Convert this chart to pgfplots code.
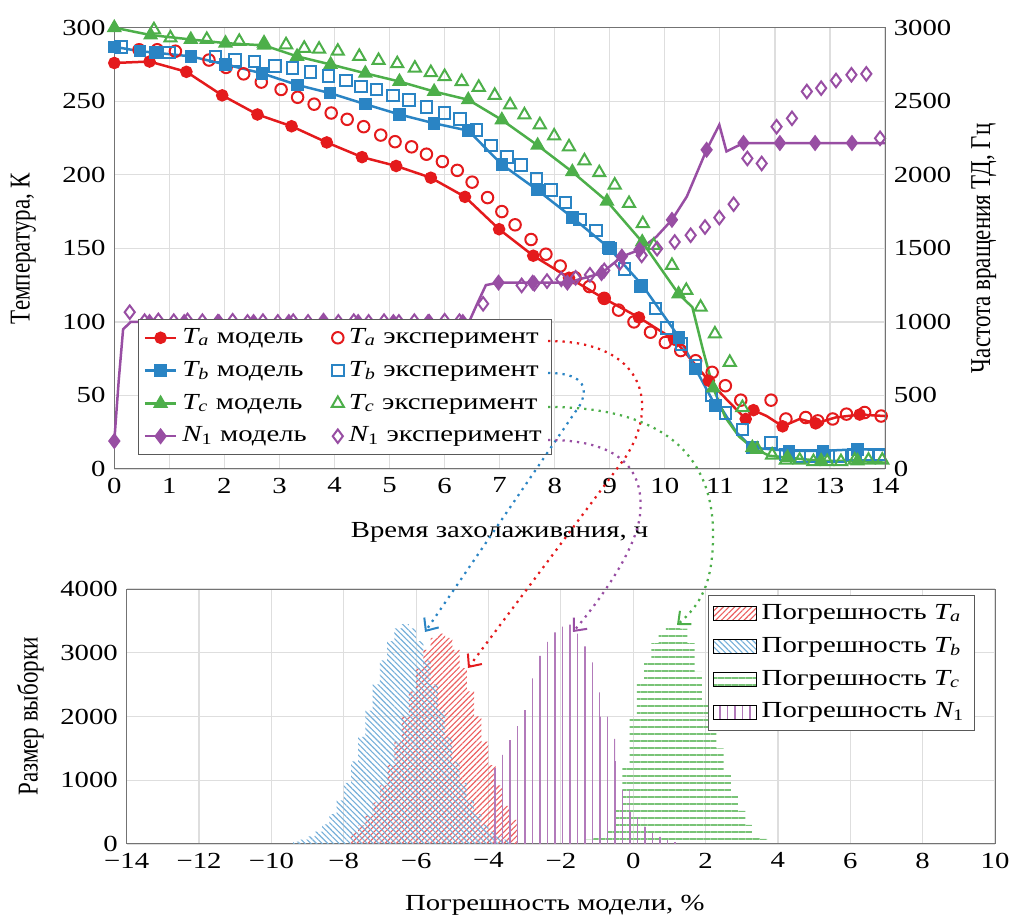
\documentclass[border=0pt]{standalone}
\usepackage{fontspec}
\setmainfont[FakeStretch=1.25]{Liberation Serif}
\newfontfamily\rotfont{Liberation Serif}
\usepackage{graphicx}
\usepackage{pgfplots}
\usepackage{pgfplotstable}
\pgfplotsset{compat=1.18}
\usetikzlibrary{patterns.meta,arrows.meta}
\definecolor{cR}{HTML}{E41A1C}
\definecolor{cB}{HTML}{2A84C4}
\definecolor{cG}{HTML}{4DAF4A}
\definecolor{cP}{HTML}{984EA3}
\newcommand{\iv}[1]{{\itshape #1}}

\pgfplotstableread{
x y
0 276
0.64 277
1.31 270
1.96 254
2.6 241
3.22 233
3.86 222
4.5 212
5.12 206
5.75 198
6.37 185
6.99 163
7.61 145
8.26 130
8.89 116
9.53 103
10.17 88
10.8 60
11.13 47
11.47 34
11.61 40
11.85 36
12.14 29
12.45 34
12.74 31
13.1 35
13.54 37
14 36
}\TaM
\pgfplotstableread{
x y
0.45 285
0.78 285
1.11 284
1.72 278
2.03 273
2.35 268.6
2.67 263
3.03 258
3.33 252.7
3.63 248
3.94 242
4.23 237.7
4.53 232.7
4.84 227
5.1 222.5
5.4 219
5.67 214
5.96 209
6.23 203
6.5 195
6.78 184.5
7.04 175
7.28 166
7.57 156
7.84 146
8.1 138
8.37 130
8.63 124
8.9 116
9.16 108
9.44 100
9.74 93
10.01 86
10.29 80.5
10.56 73.6
10.86 65.7
11.1 56.6
11.38 46.8
11.93 46.8
12.2 34
12.56 35
12.78 32.7
13.05 34
13.3 37.3
13.63 38.4
13.93 36
}\TaE
\pgfplotstableread{
x y
0 287
0.47 284
0.75 283
1.39 280.5
2.02 275
2.68 269
3.33 261
3.92 255.5
4.56 248
5.18 241
5.81 235
6.43 230
7.04 207
7.69 189.5
8.32 171
8.98 150.5
9.59 125
10.26 89.5
10.56 68
10.92 43
11.05 40
11.3 25
11.59 14.5
12.26 12.3
12.87 12.3
13.5 13.4
14 13
}\TbM
\pgfplotstableread{
x y
0.12 287
0.99 283
1.84 280.5
2.19 278
2.55 277
2.92 274
3.24 272.5
3.56 270
3.89 267
4.21 264
4.48 260
4.76 258
5.06 254
5.35 251
5.67 246
6.0 242
6.28 238
6.58 230.5
6.84 220
7.13 212
7.39 206.6
7.67 197.5
7.93 189.5
8.2 181
8.46 169.5
8.75 162
9.0 150
9.27 136
9.56 124
9.83 109
10.04 96
10.3 85
10.56 70
10.85 50
11.1 38
11.41 27
11.93 18
12.2 10
12.45 9
12.66 9
12.9 9
13.18 9
13.43 10
13.67 10
13.9 10
}\TbE
\pgfplotstableread{
x y
0 300
0.66 295
1.39 292
2.02 289.5
2.72 288
3.32 280.5
3.93 275
4.56 269
5.18 263.4
5.81 256.6
6.43 251
7.04 237.3
7.69 220
8.32 202
8.95 182
9.59 154.3
10.25 119
10.5 110
10.7 80
10.88 55
11.1 35
11.35 22
11.59 14.5
11.9 9
12.23 7.7
12.84 5.5
13.5 5.5
14 4.3
}\TcM
\pgfplotstableread{
x y
0.72 298.6
1.02 293
1.68 292
2.27 290.7
2.72 289.5
3.12 288.4
3.45 286
3.72 285.4
4.06 284
4.45 280.5
4.8 277.7
5.14 275.5
5.46 272.5
5.75 269.5
6.0 266.8
6.31 263.4
6.62 259.5
6.91 254
7.19 247.5
7.45 240.7
7.73 234
7.99 226.4
8.26 219
8.54 209.5
8.81 201.4
9.09 193
9.35 180.5
9.6 166.8
9.8 152
10.13 138.4
10.39 121.4
10.65 110
10.91 91.8
11.18 72.5
11.41 41.8
11.68 13.4
11.95 9.5
12.2 6
12.45 6
12.7 5
12.95 5
13.2 5
13.45 6
13.7 6
13.95 6
}\TcE
\pgfplotstableread{
x y
0 190
0.08 600
0.16 950
0.3 1000
0.64 1000
1.27 1000
1.9 1000
2.53 1000
3.17 1000
3.8 1000
4.43 1000
5.07 1000
5.7 1000
6.33 1000
6.45 1005
6.6 1130
6.75 1250
6.98 1267
7.6 1267
8.23 1267
8.85 1331
9.22 1444
9.54 1490
9.85 1580
10.13 1694
10.4 1852
10.76 2170
10.99 2340
11.12 2159
11.43 2216
12.09 2216
12.73 2216
13.4 2216
14 2216
}\NM
\pgfplotstableread{
x y
0.28 1066
0.55 1005
0.8 1010
1.08 1005
1.33 1010
1.6 1005
1.88 1000
2.15 1008
2.42 1000
2.7 1005
2.97 1000
3.25 1005
3.52 1000
3.8 1008
4.07 1000
4.35 1005
4.62 1000
4.9 1005
5.17 1000
5.45 1005
5.72 1000
6.0 1008
6.27 1005
6.7 1123
7.4 1248
7.63 1260
7.86 1277
8.12 1290
8.38 1300
8.64 1320
8.9 1350
9.18 1400
9.58 1452
9.86 1498
10.18 1543
10.47 1589
10.73 1645
10.99 1709
11.25 1800
11.5 2111
11.76 2077
12.03 2327
12.31 2384
12.58 2566
12.84 2589
13.11 2641
13.39 2680
13.66 2686
13.91 2248
}\NE

\pgfplotstableread{
x y
-7.8 185
-7.6 293
-7.4 447
-7.2 653
-7.0 918
-6.8 1239
-6.6 1606
-6.4 2002
-6.2 2396
-6.0 2757
-5.8 3046
-5.6 3235
-5.4 3300
-5.2 3235
-5.0 3046
-4.8 2757
-4.6 2396
-4.4 2002
-4.2 1606
-4.0 1239
-3.8 918
-3.6 600
-3.4 380
-3.2 0
}\HTa
\pgfplotstableread{
x y
-9.4 38
-9.2 68
-9.0 118
-8.8 194
-8.6 307
-8.4 467
-8.2 683
-8.0 959
-7.8 1295
-7.6 1679
-7.4 2093
-7.2 2505
-7.0 2882
-6.8 3184
-6.6 3382
-6.4 3450
-6.2 3382
-6.0 3184
-5.8 2882
-5.6 2505
-5.4 2093
-5.2 1679
-5.0 1295
-4.8 959
-4.6 683
-4.4 467
-4.2 307
-4.0 194
-3.8 118
-3.6 68
-3.4 0
}\HTb
\pgfplotstableread{
x y
-1.7 30
-1.5 50
-1.3 70
-1.1 100
-0.9 150
-0.7 250
-0.5 600
-0.3 1250
-0.1 2000
0.1 2550
0.3 2850
0.5 3150
0.7 3320
0.9 3420
1.1 3450
1.3 3380
1.5 3150
1.7 2700
1.9 2250
2.1 1900
2.3 1500
2.5 1150
2.7 800
2.9 520
3.1 300
3.3 170
3.5 80
3.7 40
3.9 0
}\HTc
\pgfplotstableread{
x y
-3.9 1190
-3.7 1400
-3.5 1630
-3.3 1850
-3.1 2100
-2.9 2600
-2.7 2950
-2.5 3170
-2.3 3320
-2.1 3410
-1.9 3440
-1.7 3300
-1.5 3100
-1.3 2850
-1.1 2380
-0.9 2000
-0.7 1650
-0.5 1300
-0.3 850
-0.1 500
0.1 420
0.3 270
0.5 170
0.7 110
0.9 65
1.1 30
1.3 0
}\HN

\begin{document}
\begin{tikzpicture}[font=\fontsize{9.2}{11}\selectfont]
\path[use as bounding box] (0,0) rectangle (404pt,369.2pt);
\pgfplotsset{
  common/.style={
    scale only axis, anchor=south west,
    /pgf/number format/assume math mode=true,
    /pgf/number format/1000 sep={},
    scaled ticks=false,
    tick style={draw=none},
    axis line style={black!55},
    grid=major, grid style={black!13, line width=0.5pt},
    tick label style={font=\fontsize{9.2}{11}\selectfont},
  },
  mod/.style={line width=1pt, mark size=2pt,
    legend image code/.code={\draw[mark=none] (0cm,0cm) -- (0.44cm,0cm); \draw[mark indices={1}] plot coordinates {(0.22cm,0cm)};}},
  expm/.style={only marks, mark size=2.3pt, mark options={line width=0.8pt},
    legend image code/.code={\draw plot coordinates {(0.1cm,0cm)};}},
}
% ---------------- top axis ----------------
\begin{axis}[common,
  at={(45.72pt,181.6pt)}, width=308.28pt, height=176.52pt,
  xmin=0, xmax=14, ymin=0, ymax=300,
  xtick={0,1,...,14}, ytick={0,50,...,300},
  clip=false,
  xlabel={Время захолаживания, ч},
  ylabel={\rotfont\scalebox{1}[1.25]{Температура, К}},
  every axis x label/.style={at={(axis description cs:0.5,-0.143)},anchor=center},
  every axis y label/.style={at={(axis description cs:-0.118,0.5)},anchor=center,rotate=90},
  legend columns=2, legend cell align=left,
  legend style={at={(axis description cs:0.031,0.032)}, anchor=south west,
    draw=black!65, fill=white, inner xsep=2pt, inner ysep=1.5pt,
    row sep=1.6pt, font=\fontsize{9.2}{11}\selectfont,
    /tikz/every even column/.append style={column sep=8pt}},
]
\addplot[mod, cR, mark=*, mark indices={1,2,...,18,20,21,23,25,27}] table {\TaM};
\addlegendentry{\iv{T}\textsubscript{\iv{a}} модель}
\addplot[expm, cR, mark=o] table {\TaE};
\addlegendentry{\iv{T}\textsubscript{\iv{a}} эксперимент}
\addplot[mod, cB, mark=square*, mark indices={1,2,...,20,23,24,25,26}] table {\TbM};
\addlegendentry{\iv{T}\textsubscript{\iv{b}} модель}
\addplot[expm, cB, mark=square] table {\TbE};
\addlegendentry{\iv{T}\textsubscript{\iv{b}} эксперимент}
\addplot[mod, cG, mark=triangle*, mark size=2.5pt, mark indices={1,2,...,17,20,23,25,26,27}] table {\TcM};
\addlegendentry{\iv{T}\textsubscript{\iv{c}} модель}
\addplot[expm, cG, mark=triangle, mark size=2.8pt] table {\TcE};
\addlegendentry{\iv{T}\textsubscript{\iv{c}} эксперимент}
\addplot[mod, cP, mark=diamond*, mark size=2.5pt, mark indices={1,5,6,...,14,18,19,20,21,22,23,25,27,30,31,32,33}] table[y expr=\thisrow{y}/10] {\NM};
\addlegendentry{\iv{N}\textsubscript{1} модель}
\addplot[expm, cP, mark=diamond, mark size=2.7pt] table[y expr=\thisrow{y}/10] {\NE};
\addlegendentry{\iv{N}\textsubscript{1} эксперимент}
\end{axis}
% right axis
\begin{axis}[common,
  at={(45.72pt,181.6pt)}, width=308.28pt, height=176.52pt,
  xmin=0, xmax=14, ymin=0, ymax=3000,
  axis y line*=right, axis x line=none, grid=none,
  ytick={0,500,...,3000},
  ylabel={\rotfont\scalebox{1}[1.25]{Частота вращения ТД, Гц}},
  every axis y label/.style={at={(axis description cs:1.128,0.5)},anchor=center,rotate=90},
]
\addplot[draw=none] coordinates {(0,0)};
\end{axis}
% ---------------- bottom axis ----------------
\begin{axis}[common,
  at={(50.68pt,31.6pt)}, width=347.32pt, height=102pt,
  xmin=-14, xmax=10, ymin=0, ymax=4000,
  xtick={-14,-12,...,10},
  xticklabels={−14,−12,−10,−8,−6,−4,−2,0,2,4,6,8,10},
  ytick={0,1000,...,4000},
  xlabel={Погрешность модели, \%},
  ylabel={\rotfont\scalebox{1}[1.25]{Размер выборки}},
  every axis x label/.style={at={(axis description cs:0.493,-0.24)},anchor=center},
  every axis y label/.style={at={(axis description cs:-0.111,0.5)},anchor=center,rotate=90},
  legend cell align=left,
  legend style={at={(axis description cs:0.977,0.976)}, anchor=north east,
    draw=black!65, fill=white, inner xsep=2pt, inner ysep=1.5pt, row sep=1.6pt,
    font=\fontsize{9.2}{11}\selectfont},
]
\addplot[const plot, draw=none, area legend, pattern={Lines[angle=45,distance=1.6pt,line width=0.45pt]}, pattern color=cR!70] table {\HTa} \closedcycle;
\addlegendentry{Погрешность \iv{T}\textsubscript{\iv{a}}}
\addplot[const plot, draw=none, area legend, pattern={Lines[angle=-45,distance=1.6pt,line width=0.45pt]}, pattern color=cB!65] table {\HTb} \closedcycle;
\addlegendentry{Погрешность \iv{T}\textsubscript{\iv{b}}}
\addplot[const plot, draw=none, area legend, pattern={Lines[angle=0,distance=2.8pt,line width=0.45pt]}, pattern color=cG!75] table {\HTc} \closedcycle;
\addlegendentry{Погрешность \iv{T}\textsubscript{\iv{c}}}
\addplot[const plot, draw=none, area legend, pattern={Lines[angle=90,distance=3pt,line width=0.5pt]}, pattern color=cP!75] table {\HN} \closedcycle;
\addlegendentry{Погрешность \iv{N}\textsubscript{1}}
\end{axis}
% ---------------- dotted arrows ----------------
\tikzset{arr/.style={dotted, line width=0.9pt, -{Straight Barb[length=4pt,width=7pt,line width=0.8pt]}}}
\draw[arr, cR] (219.2pt,232.8pt) .. controls (258pt,232.8pt) and (264pt,207.2pt) .. (250pt,186pt) -- (187.2pt,102pt);
\draw[arr, cB] (219.2pt,220pt) .. controls (232pt,220pt) and (236pt,215.2pt) .. (232pt,207.2pt) -- (170pt,116.4pt);
\draw[arr, cG] (219.2pt,206.4pt) .. controls (272pt,206.4pt) and (286pt,181.2pt) .. (285.2pt,153.2pt) .. controls (284.8pt,135.2pt) and (280pt,127.2pt) .. (270.8pt,119.2pt);
\draw[arr, cP] (219.2pt,193.2pt) .. controls (248pt,193.2pt) and (258pt,181.2pt) .. (256pt,163.2pt) .. controls (254.4pt,149.2pt) and (240pt,129.2pt) .. (229.2pt,116.4pt);
\end{tikzpicture}
\end{document}
